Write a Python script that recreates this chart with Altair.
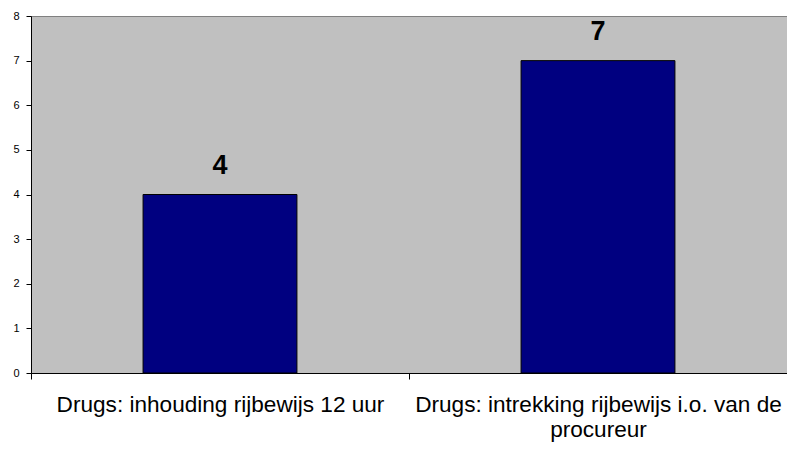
import altair as alt
import pandas as pd

categories = ["Drugs: inhouding rijbewijs 12 uur",
              "Drugs: intrekking rijbewijs i.o. van de\nprocureur"]
values = [4, 7]

df = pd.DataFrame({"cat": categories, "val": values})

FONT = "Liberation Sans"

x = alt.X("cat:N", sort=categories, title=None,
          scale=alt.Scale(paddingInner=0, paddingOuter=0),
          axis=alt.Axis(labelAngle=0, labelFontSize=22.6, labelFont=FONT, labelColor="black",
                        labelLimit=0, labelPadding=14, tickSize=6, tickColor="black",
                        domainColor="black", tickBand="extent",
                        labelExpr="split(datum.label, '\\n')", labelLineHeight=25,
                        labelBaseline="top", labelOverlap=False))
y = alt.Y("val:Q", title=None,
          scale=alt.Scale(domain=[0, 8], nice=False),
          axis=alt.Axis(values=list(range(0, 9)), grid=False, labelFontSize=11, labelFont=FONT,
                        labelColor="black", tickSize=5, tickColor="black", domainColor="black",
                        labelPadding=7))

bars = alt.Chart(df).mark_bar(color="#000080", stroke="black", strokeWidth=1,
                              width=alt.RelativeBandSize(0.407)).encode(x=x, y=y)
text = alt.Chart(df).mark_text(fontSize=27, fontWeight="bold", font=FONT, color="black",
                               baseline="bottom", dy=-15).encode(x=x, y=y, text="val:Q")

chart = (bars + text).properties(
    width=756, height=357,
    autosize=alt.AutoSizeParams(type="none"),
    padding={"left": 23, "top": 8, "right": 0, "bottom": 69},
    background="white",
).configure_view(fill="#C0C0C0", stroke="#808080", strokeWidth=1)

chart.save("out.html", embed_options={"renderer": "svg", "actions": False})
